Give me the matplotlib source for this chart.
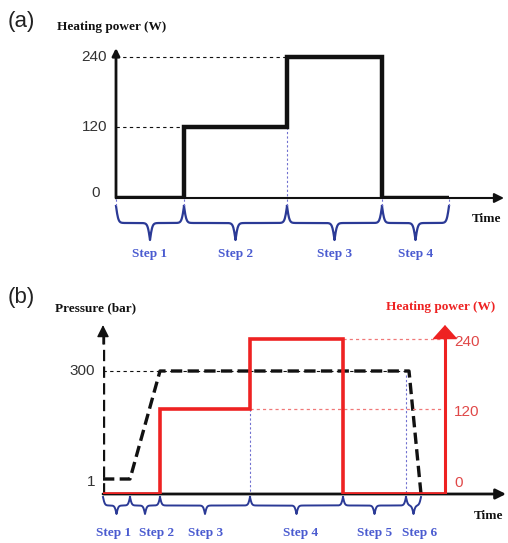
import numpy as np
import matplotlib
matplotlib.use("Agg")
import matplotlib.pyplot as plt
from matplotlib.lines import Line2D

# ---------------- data ----------------
# panel (a): heating power programme
steps_a = ["Step 1", "Step 2", "Step 3", "Step 4"]
bounds_a = [0, 68, 171, 266, 333]        # step edges on the time axis (arb. units)
power_a = [0, 120, 240, 0]               # heating power in each step (W)
ticks_a = [0, 120, 240]

# panel (b): pressure + heating power programme
steps_b = ["Step 1", "Step 2", "Step 3", "Step 4", "Step 5", "Step 6"]
bounds_b = [0, 27, 57, 147, 240, 303, 318]
power_b = [0, 0, 120, 240, 0, 0]         # W
power_end_b = 342                        # heating axis position / end of red line
pressure_t = [0, 27, 57, 306, 318]
pressure_v = [1, 1, 300, 300, 0]         # bar
ticks_pressure = [1, 300]
ticks_power_b = [0, 120, 240]

# ---------------- style ----------------
W, H = 508, 543
BLACK = "#111111"
RED = "#ee2222"
RED_TXT = "#e04848"
RED_GUIDE = "#f07878"
BRACE = "#2b3a96"
STEP_TXT = "#4a5bd0"
BLUE_DOT = "#7070d0"
SERIF = "Liberation Serif"
SANS = "Liberation Sans"

# schematic (non-linear) value -> pixel height mappings of panel (b)
pressure_levels = ([0, 1, 300], [0, 15, 123])
power_levels_b = ([0, 120, 240], [0, 85, 155])


def rect(x0, y_top, x1, y_bot):
    return [x0 / W, 1 - y_bot / H, (x1 - x0) / W, (y_bot - y_top) / H]


def schematic_scale(vals, px):
    vals = np.asarray(vals, float)
    px = np.asarray(px, float)
    lo = (px[1] - px[0]) / (vals[1] - vals[0])
    hi = (px[-1] - px[-2]) / (vals[-1] - vals[-2])

    def mapping(v, a, b, s_lo, s_hi):
        v = np.asarray(v, float)
        out = np.interp(v, a, b)
        out = np.where(v < a[0], b[0] + (v - a[0]) * s_lo, out)
        out = np.where(v > a[-1], b[-1] + (v - a[-1]) * s_hi, out)
        return out

    fwd = lambda v: mapping(v, vals, px, lo, hi)
    inv = lambda p: mapping(p, px, vals, 1 / lo, 1 / hi)
    return fwd, inv


def px_line(xs, ys, **kw):
    # xs in display pixels, ys in pixels from the top of the image
    fig.add_artist(Line2D(np.asarray(xs) / W, 1 - np.asarray(ys) / H,
                          transform=fig.transFigure, **kw))


def data_x_px(ax, t):
    return ax.transData.transform((t, ax.get_ylim()[0]))[0]


def brace(ax, t0, t1, y_top, depth, lw, k):
    x0, x1 = data_x_px(ax, t0), data_x_px(ax, t1)
    w = x1 - x0
    half = np.linspace(0, w / 2, 120)
    yh = 1 / (1 + np.exp(-k * half)) + 1 / (1 + np.exp(-k * (half - w / 2)))
    y = np.concatenate([yh, yh[-2::-1]])
    x = np.concatenate([x0 + half, x0 + w - half[-2::-1]])
    px_line(x, y_top + (y - 0.5) * depth, color=BRACE, lw=lw, solid_joinstyle="round")


def arrow(ax, start, end, color, lw, scale, style="-|>"):
    ax.annotate("", xy=end, xytext=start, annotation_clip=False,
                arrowprops=dict(arrowstyle=style, color=color, lw=lw,
                                mutation_scale=scale, shrinkA=0, shrinkB=0))


fig = plt.figure(figsize=(W / 100, H / 100), dpi=100)

# ================= panel (a) =================
ax_a = fig.add_axes(rect(116, 48, 504, 198))
ax_a.set_xlim(0, 388)
ax_a.set_ylim(0, 255.3)
ax_a.axis("off")

# guide lines
for v in ticks_a[1:]:
    t_end = bounds_a[power_a.index(v)]
    ax_a.plot([0, t_end], [v, v], color=BLACK, lw=0.8, ls=(0, (3, 3)))
ax_a.plot([bounds_a[2]] * 2, [power_a[1], 0], color=BLUE_DOT, lw=0.8, ls=(0, (2, 2)))

# axes with arrows
arrow(ax_a, (0, 0), (388, 0), BLACK, 1.5, 14)
arrow(ax_a, (0, 0), (0, 255.3), BLACK, 2.0, 11)

# heating power
ax_a.step(bounds_a, power_a + [power_a[-1]], where="post", color=BLACK, lw=3.2,
          solid_joinstyle="miter", solid_capstyle="butt", zorder=5)

for v in ticks_a:
    dy = 5 if v == 0 else 0
    ax_a.annotate(str(v), xy=(0, v), xytext=(-9 if v else -16, dy), textcoords="offset pixels",
                  ha="right", va="center", fontsize=11, family=SANS, color="#333333")

# step braces
for i, name in enumerate(steps_a):
    t0, t1 = bounds_a[i], bounds_a[i + 1]
    brace(ax_a, t0, t1, 206, 34, 1.6, 0.85)
    ax_a.annotate(name, xy=((t0 + t1) / 2, 0), xytext=(0, -56), textcoords="offset pixels",
                  ha="center", va="center", fontsize=9.5, family=SERIF, weight="bold",
                  color=STEP_TXT)
for t in bounds_a:
    xp = data_x_px(ax_a, t)
    px_line([xp, xp], [199, 207], color=BLUE_DOT, lw=0.8, ls=(0, (2, 2)))

fig.text(8 / W, 1 - 21 / H, "(a)", fontsize=16, family=SANS, va="center", color="#222222")
fig.text(57 / W, 1 - 27 / H, "Heating power (W)", fontsize=9.5, family=SERIF,
         weight="bold", va="center", color=BLACK)
fig.text(487 / W, 1 - 219 / H, "Time", fontsize=9.5, family=SERIF, weight="bold",
         ha="center", va="center", color=BLACK)

# ================= panel (b) =================
box_b = rect(103, 325, 506, 494)
ax_b = fig.add_axes(box_b)
ax_b.set_xlim(0, 403)
f_p, i_p = schematic_scale(*pressure_levels)
ax_b.set_yscale("function", functions=(f_p, i_p))
top_p = float(i_p(169))
ax_b.set_ylim(0, top_p)
ax_b.axis("off")

ax_r = ax_b.twinx()
f_w, i_w = schematic_scale(*power_levels_b)
ax_r.set_yscale("function", functions=(f_w, i_w))
top_w = float(i_w(169))
ax_r.set_ylim(0, top_w)
ax_r.axis("off")

# guides
ax_b.plot([0, pressure_t[3]], [300, 300], color=BLACK, lw=0.8, ls=(0, (3, 3)))
for v in ticks_power_b[1:]:
    t_start = bounds_b[power_b.index(v) + 1]
    ax_r.plot([t_start, power_end_b], [v, v], color=RED_GUIDE, lw=0.9, ls=(0, (2.5, 2.5)))
ax_r.plot([bounds_b[3]] * 2, [120, 0], color=BLUE_DOT, lw=0.8, ls=(0, (2, 2)))
ax_b.plot([bounds_b[5]] * 2, [290, 0], color=BLUE_DOT, lw=0.8, ls=(0, (2, 2)))

# time axis
arrow(ax_b, (0, 0), (403, 0), BLACK, 2.0, 15)

# pressure axis (dashed) with arrow head
ax_b.plot([0, 0], [0, float(i_p(158))], color=BLACK, lw=2.4, ls=(0, (3.4, 1.6)),
          solid_capstyle="butt")
arrow(ax_b, (0, float(i_p(150))), (0, top_p), BLACK, 1.0, 18)

# heating axis (red) with arrow head
ax_r.plot([power_end_b] * 2, [0, float(i_w(160))], color=RED, lw=2.2)
ax_r.annotate("", xy=(power_end_b, top_w), xytext=(power_end_b, float(i_w(150))),
              annotation_clip=False,
              arrowprops=dict(arrowstyle="-|>,head_length=0.5,head_width=0.45", color=RED,
                              lw=1.0, mutation_scale=18, shrinkA=0, shrinkB=0))

# curves
ax_r.step(bounds_b + [power_end_b], power_b + [power_b[-1], power_b[-1]], where="post",
          color=RED, lw=2.6, solid_joinstyle="miter", zorder=6)
ax_b.plot(pressure_t, pressure_v, color=BLACK, lw=2.4, ls=(0, (3.4, 1.6)), zorder=7)

for v in ticks_pressure:
    dy = -3 if v == 1 else 0
    ax_b.annotate(str(v), xy=(0, v), xytext=(-8, dy), textcoords="offset pixels",
                  ha="right", va="center", fontsize=11, family=SANS, color="#333333")
for v in ticks_power_b:
    dy = 11 if v == 0 else -3
    ax_r.annotate(str(v), xy=(power_end_b, v), xytext=(9, dy), textcoords="offset pixels",
                  ha="left", va="center", fontsize=11, family=SANS, color=RED_TXT)

label_nudge_b = [-3, 12, 1, 4, 0, 6]
for i, name in enumerate(steps_b):
    t0, t1 = bounds_b[i], bounds_b[i + 1]
    brace(ax_b, t0, t1, 497, 17, 1.4, 1.1)
    ax_b.annotate(name, xy=((t0 + t1) / 2, 0), xytext=(label_nudge_b[i], -39),
                  textcoords="offset pixels", ha="center", va="center", fontsize=9.5,
                  family=SERIF, weight="bold", color=STEP_TXT)

fig.text(8 / W, 1 - 298 / H, "(b)", fontsize=16, family=SANS, va="center", color="#222222")
fig.text(55 / W, 1 - 308 / H, "Pressure (bar)", fontsize=9.5, family=SERIF,
         weight="bold", va="center", color=BLACK)
fig.text(386 / W, 1 - 307 / H, "Heating power (W)", fontsize=9.5, family=SERIF,
         weight="bold", va="center", color=RED)
fig.text(489 / W, 1 - 516 / H, "Time", fontsize=9.5, family=SERIF, weight="bold",
         ha="center", va="center", color=BLACK)

fig.savefig("out.png", dpi=100)
